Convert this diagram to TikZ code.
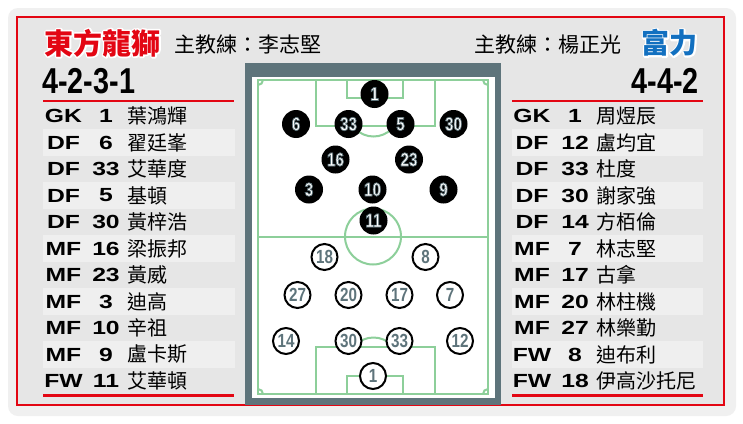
\documentclass[tikz,border=0pt]{standalone}
\usepackage{fontspec}
\setmainfont{Liberation Sans}
\newfontfamily\cjk{Noto Sans CJK TC}
\newfontfamily\condf[FakeStretch=0.8]{Liberation Sans}
\newfontfamily\widef[FakeStretch=1.3]{Liberation Sans}
\definecolor{redb}{HTML}{E30613}
\definecolor{bgg}{HTML}{E6E6E6}
\definecolor{bandg}{HTML}{EFEFEF}
\definecolor{slate}{HTML}{5E747B}
\definecolor{pgreen}{HTML}{8DCF9A}
\definecolor{blueb}{HTML}{1270C0}
\tikzset{
  home/.style={circle,fill=black,minimum size=28pt,inner sep=0pt,text=white,
    font=\condf\bfseries\fontsize{19}{19}\selectfont},
  away/.style={circle,draw=black,line width=2pt,fill=white,minimum size=26pt,inner sep=0pt,
    text=slate,font=\condf\bfseries\fontsize{19}{19}\selectfont},
  posn/.style={inner sep=0pt,font=\widef\bfseries\fontsize{19}{19}\selectfont},
  pname/.style={inner sep=0pt,anchor=west,font=\cjk\fontsize{20}{20}\selectfont},
  fline/.style={draw=pgreen,line width=2pt},
  redline/.style={draw=redb,line width=2.2pt},
  halo/.style={inner sep=0pt,text=white}
}
\newcommand{\hnum}[1]{\special{pdf:literal direct 0.369 0.455 0.482 RG 2 Tr 0.7 w}#1\special{pdf:literal direct 0 Tr}}
\newcommand{\halotext}[1]{\special{pdf:literal direct 1 1 1 RG 1 Tr 3.2 w 1 j}#1\special{pdf:literal direct 0 Tr}}
\begin{document}
\begin{tikzpicture}[x=1pt,y=-1pt]
\useasboundingbox (0,0) rectangle (743,423);
\fill[white] (0,0) rectangle (743,423);
% shadow
\fill[black!6,rounded corners=10pt] (8,8) rectangle (736,416);
% main box
\fill[bgg] (17,17) rectangle (724,405);
\draw[redb,line width=2.2pt] (17,17) rectangle (724,405);

% headers
\node[halo,font=\cjk\bfseries\fontsize{29}{29}\selectfont] (homeh) at (102.5,43) {\halotext{東方龍獅}};
\node[inner sep=0pt,text=redb,font=\cjk\bfseries\fontsize{29}{29}\selectfont] (homet) at (102.5,43) {東方龍獅};
\node[inner sep=0pt,font=\cjk\fontsize{21}{21}\selectfont] (homec) at (248,45) {主教練：李志堅};
\node[inner sep=0pt,font=\cjk\fontsize{21}{21}\selectfont] (awayc) at (547.5,45) {主教練：楊正光};
\node[halo,font=\cjk\bfseries\fontsize{28}{28}\selectfont] (awayh) at (669.5,43) {\halotext{富力}};
\node[inner sep=0pt,text=blueb,font=\cjk\bfseries\fontsize{28}{28}\selectfont] (awayt) at (669.5,43) {富力};

\node[inner sep=0pt,anchor=west,font=\condf\bfseries\fontsize{36}{36}\selectfont] (homef) at (42,81) {4-2-3-1};
\node[inner sep=0pt,anchor=east,font=\condf\bfseries\fontsize{36}{36}\selectfont] (awayf) at (699,81) {4-4-2};

% row bands
\foreach \i in {2,4,6,8,10}{
  \fill[bandg] (43,{116+26.5*(\i-1)-13.5}) rectangle (235,{116+26.5*(\i-1)+13.5});
  \fill[bandg] (512,{116+26.5*(\i-1)-13.5}) rectangle (703,{116+26.5*(\i-1)+13.5});
}
\draw[redline] (43,101) -- (234,101);
\draw[redline] (43,395.5) -- (234,395.5);
\draw[redline] (512,101) -- (703,101);
\draw[redline] (512,395.5) -- (703,395.5);

% left list
\foreach \p/\n/\nm [count=\i] in {GK/1/葉鴻輝,DF/6/翟廷峯,DF/33/艾華度,DF/5/基頓,DF/30/黃梓浩,MF/16/梁振邦,MF/23/黃威,MF/3/迪高,MF/10/辛祖,MF/9/盧卡斯,FW/11/艾華頓}{
  \node[posn] (lp\i) at (63.5,{116+26.5*(\i-1)}) {\p};
  \node[posn] (ln\i) at (106,{116+26.5*(\i-1)}) {\n};
  \node[pname] (lm\i) at (127,{116+26.5*(\i-1)}) {\nm};
}
% right list
\foreach \p/\n/\nm [count=\i] in {GK/1/周煜辰,DF/12/盧均宜,DF/33/杜度,DF/30/謝家強,DF/14/方栢倫,MF/7/林志堅,MF/17/古拿,MF/20/林柱機,MF/27/林樂勤,FW/8/迪布利,FW/18/伊高沙托尼}{
  \node[posn] (rp\i) at (532,{116+26.5*(\i-1)}) {\p};
  \node[posn] (rn\i) at (575,{116+26.5*(\i-1)}) {\n};
  \node[pname] (rm\i) at (596,{116+26.5*(\i-1)}) {\nm};
}

% pitch
\fill[slate] (245,63) rectangle (501,405);
\fill[white] (252,77) rectangle (495,398);
\draw[fline] (258,80) rectangle (488,394);
\draw[fline] (258,236.5) -- (488,236.5);
\draw[fline] (373,236.5) circle (28);
\draw[fline] (316,80) rectangle (435,126);
\draw[fline] (347,80) rectangle (403,98);
\draw[fline] (316,394) rectangle (435,347);
\draw[fline] (347,394) rectangle (403,376);
\begin{scope}
  \clip (316,127) rectangle (435,145);
  \draw[fline] (373.5,111) circle (25.5);
\end{scope}
\begin{scope}
  \clip (316,346) rectangle (435,328);
  \draw[fline] (373.5,363) circle (25.5);
\end{scope}
\begin{scope}
  \clip (258,80) rectangle (488,394);
  \draw[fline] (258,80) circle (5);
  \draw[fline] (488,80) circle (5);
  \draw[fline] (258,394) circle (5);
  \draw[fline] (488,394) circle (5);
\end{scope}

% home players
\foreach \nm/\x/\y in {1/374.5/94,6/296/124,33/348.5/124,5/400.5/124,30/453.5/124,16/335.5/159.5,23/409/159.5,3/309/189.5,10/372.5/189.5,9/443.5/189.5,11/373.5/220.5}{
  \node[home] (h\nm) at (\x,\y) {\hnum{\nm}};
}
% away players
\foreach \nm/\x/\y in {18/324.5/257,8/425.5/257,27/297.5/295,20/348.5/295,17/399.5/295,7/450/295,14/286/341,30/348.5/341,33/399.5/341,12/460/341,1/373/376}{
  \node[away] (a\nm) at (\x,\y) {\nm};
}
\end{tikzpicture}
\end{document}
